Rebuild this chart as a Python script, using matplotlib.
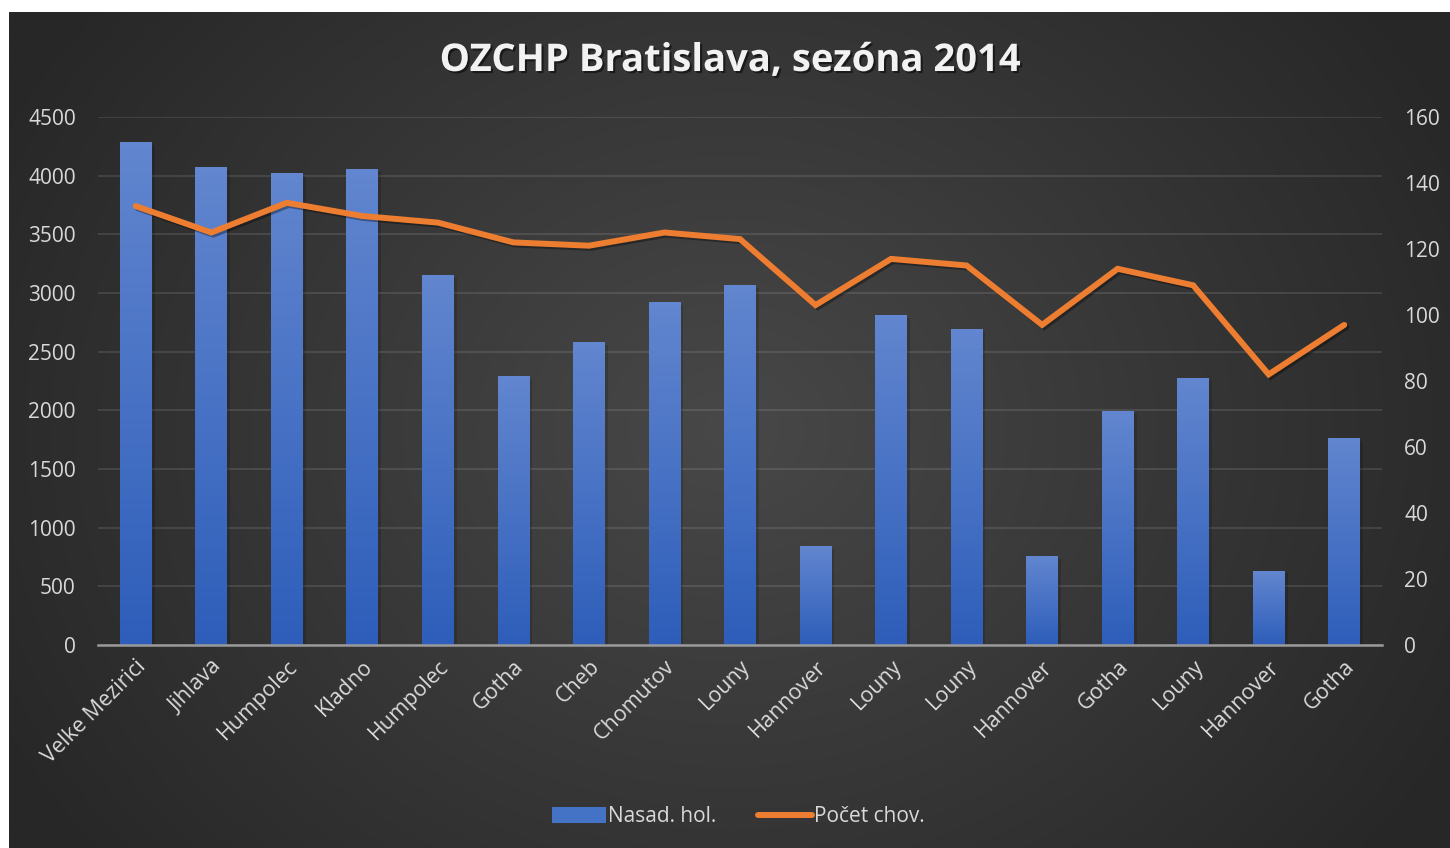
import matplotlib
matplotlib.use("Agg")
import matplotlib.pyplot as plt
import matplotlib.patheffects as pe
from matplotlib.patches import Patch
from matplotlib.lines import Line2D
import numpy as np

# data
places = ["Velke Mezirici", "Jihlava", "Humpolec", "Kladno", "Humpolec", "Gotha",
          "Cheb", "Chomutov", "Louny", "Hannover", "Louny", "Louny", "Hannover",
          "Gotha", "Louny", "Hannover", "Gotha"]
nasad_hol = [4280, 4070, 4020, 4050, 3150, 2290, 2580, 2920, 3060, 840,
             2810, 2690, 750, 1990, 2270, 630, 1760]
pocet_chov = [133, 125, 134, 130, 128, 122, 121, 125, 123, 103,
              117, 115, 97, 114, 109, 82, 97]

txt = "#d9d9d9"
plt.rcParams['font.family'] = ['Open Sans', 'DejaVu Sans']

fig = plt.figure(figsize=(14.5, 8.48), dpi=100)
fig.patch.set_facecolor("white")

# dark radial background
bg = fig.add_axes([9/1450, 0, 1 - 9/1450, 1 - 12/848], zorder=-10)
yy, xx = np.mgrid[0:1:300j, 0:1:500j]
r = np.sqrt(((xx - 0.5) * 1.3) ** 2 + ((yy - 0.5) * 0.9) ** 2)
r = np.clip(r / 0.75, 0, 1)
c0, c1 = 0x48 / 255, 0x27 / 255
shade = c0 + (c1 - c0) * r
bg.imshow(np.dstack([shade, shade, shade]), aspect="auto", extent=[0, 1, 0, 1])
bg.axis("off")

ax = fig.add_axes([98/1450, 1 - 645/848, (1382 - 98)/1450, (645 - 117)/848])
ax.patch.set_alpha(0)
x = np.arange(len(places))
w = 0.42

# bar gradient (light top -> darker bottom)
top = np.array([0x62, 0x86, 0xcf]) / 255
bot = np.array([0x2e, 0x5e, 0xba]) / 255
g = np.linspace(0, 1, 100)[:, None]
grad = (top[None, :] * (1 - g) + bot[None, :] * g)[:, None, :]
for xi, v in zip(x, nasad_hol):
    ax.bar(xi + 0.03, v, w + 0.02, bottom=-20, color="black", alpha=0.15, zorder=1.5)
    ax.imshow(grad, extent=[xi - w/2, xi + w/2, 0, v], aspect="auto", zorder=2)

ax.set_xlim(-0.5, len(places) - 0.5)
ax.set_ylim(0, 4500)
ax.set_yticks(range(0, 4501, 500))
ax.grid(axis="y", color="white", alpha=0.11, linewidth=1.4, zorder=0)
ax.set_axisbelow(True)
for s in ["top", "right", "left"]:
    ax.spines[s].set_visible(False)
ax.spines["bottom"].set_color("#9a9a9a")
ax.spines["bottom"].set_linewidth(1.8)
ax.spines["bottom"].set_zorder(3)
ax.tick_params(axis="y", length=0, pad=16, labelsize=15, labelcolor=txt)
ax.tick_params(axis="x", length=0, pad=8, labelsize=15.5, labelcolor=txt)
ax.set_xticks(x)
ax.set_xticklabels(places, rotation=45, ha="right", rotation_mode="anchor")

ax2 = ax.twinx()
ax2.plot(x, pocet_chov, color="#ed7d31", linewidth=4.3, solid_capstyle="round",
         solid_joinstyle="miter", zorder=4,
         path_effects=[pe.SimpleLineShadow(offset=(1.5, -1.5), shadow_color="black", alpha=0.35),
                       pe.Normal()])
ax2.set_ylim(0, 160)
ax2.set_yticks(range(0, 161, 20))
for s in ax2.spines.values():
    s.set_visible(False)
ax2.tick_params(axis="y", length=0, pad=16, labelsize=15, labelcolor=txt)

fig.text(0.504, 1 - 61/848, "OZCHP Bratislava, sezóna 2014", ha="center", va="center",
         fontsize=27.5, fontweight="bold", color="#f2f2f2",
         path_effects=[pe.withSimplePatchShadow(offset=(1.5, -1.5), shadow_rgbFace="black", alpha=0.5)])

handles = [Patch(facecolor="#4472c4", edgecolor="none"),
           Line2D([0], [0], color="#ed7d31", linewidth=4.3, solid_capstyle="round")]
fig.legend(handles, ["Nasad. hol.", "Počet chov."], loc="center",
           bbox_to_anchor=(0.509, 1 - 817/848), ncol=2, frameon=False, fontsize=15,
           labelcolor=txt, handlelength=2.6, handleheight=0.8, handletextpad=0.1,
           columnspacing=2.0)

fig.savefig("out.png", dpi=100, facecolor=fig.get_facecolor())
